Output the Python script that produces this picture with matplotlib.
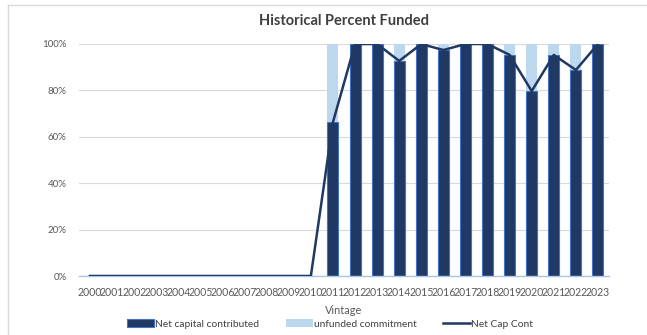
import matplotlib.pyplot as plt
import numpy as np

# vintage years and funded share per year (fraction of commitment)
vintages = [str(y) for y in range(2000, 2024)]
net_contributed = [0, 0, 0, 0, 0, 0, 0, 0, 0, 0, 0,
                   0.663, 1.0, 1.0, 0.927, 1.0, 0.974, 1.0, 1.0, 0.953, 0.797, 0.953, 0.888, 1.0]
unfunded = [0, 0, 0, 0, 0, 0, 0, 0, 0, 0, 0,
            0.337, 0.0, 0.0, 0.073, 0.0, 0.026, 0.0, 0.0, 0.047, 0.203, 0.047, 0.112, 0.0]
net_cap_line = net_contributed

navy = '#1F3864'
light = '#BDD7EE'
edge = '#4472C4'

plt.rcParams['font.family'] = ['Lato', 'DejaVu Sans']

fig = plt.figure(figsize=(6.47, 3.35), dpi=100)
ax = fig.add_axes([79 / 647, 1 - 276 / 335, 530 / 647, 232 / 335])

x = np.arange(len(vintages))
b1 = ax.bar(x, net_contributed, width=0.5, color=navy, edgecolor=edge, linewidth=0.8,
            label='Net capital contributed', zorder=2)
b2 = ax.bar(x, unfunded, width=0.5, bottom=net_contributed, color=light, linewidth=0,
            label='unfunded commitment', zorder=2)
ln, = ax.plot(x, net_cap_line, color=navy, linewidth=1.8, label='Net Cap Cont', zorder=3)

ax.set_xlim(-0.5, len(vintages) - 0.5)
ax.set_ylim(0, 1)
ax.set_yticks(np.arange(0, 1.01, 0.2))
ax.set_yticklabels([f'{int(round(v * 100))}%' for v in np.arange(0, 1.01, 0.2)])
ax.set_xticks(x)
ax.set_xticklabels(vintages, fontsize=7.6)
ax.tick_params(axis='both', length=0, colors='#595959')
ax.tick_params(axis='y', labelsize=7, pad=9)
ax.tick_params(axis='x', pad=8)
ax.grid(axis='y', color='#D9D9D9', linewidth=0.8, zorder=0)
ax.set_axisbelow(True)
for s in ['top', 'right', 'left']:
    ax.spines[s].set_visible(False)
ax.spines['bottom'].set_color('#A9C8E8')
ax.spines['bottom'].set_linewidth(1.0)

ax.set_title('Historical Percent Funded', fontsize=10.5, fontweight='bold',
             color='#404040', pad=14)
# axis title placed by hand so it sits just above the legend
fig.text(344 / 647, 1 - 311 / 335, 'Vintage', fontsize=7.8, color='#595959',
         ha='center', va='center')

fig.legend([b1, b2, ln], ['Net capital contributed', 'unfunded commitment', 'Net Cap Cont'],
           loc='center', bbox_to_anchor=(330 / 647, 1 - 324 / 335), ncol=3,
           frameon=False, fontsize=7.4, labelcolor='#404040', handlelength=2.6,
           handleheight=0.7, handletextpad=0.1, columnspacing=2.6)

# chart frame
fig.add_artist(plt.Line2D([8 / 647, 1], [1 - 5 / 335, 1 - 5 / 335],
                          transform=fig.transFigure, color='#D9D9D9', linewidth=1))
fig.add_artist(plt.Line2D([8 / 647, 8 / 647], [0, 1 - 5 / 335],
                          transform=fig.transFigure, color='#D9D9D9', linewidth=1))

fig.savefig('out.png', dpi=100)
